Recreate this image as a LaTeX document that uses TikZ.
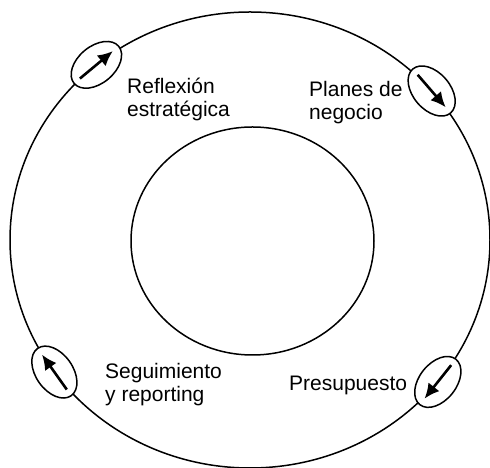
\documentclass[tikz,border=0pt]{standalone}
\usepackage{fontspec}
\setmainfont{Liberation Sans}
\usetikzlibrary{shapes.geometric,arrows.meta,calc}

\begin{document}
\begin{tikzpicture}[x=1pt, y=1pt, >={Latex[length=15pt,width=14pt]},
    marker/.style={ellipse, draw, line width=1.5pt, fill=white, minimum width=58pt, minimum height=37pt, inner sep=0pt},
    phase/.style={anchor=base west, align=left, inner sep=0pt, font=\fontsize{21}{23}\selectfont}]
  \useasboundingbox (0,0) rectangle (490,468);
  % RINGS:
  \draw[line width=1.5pt] (250,228) ellipse [x radius=240, y radius=228];
  \draw[line width=1.5pt] (252.5,227) ellipse [x radius=121.5, y radius=114];

  % MARKERS
  \foreach \t/\n in {129.8/refl, 40.8/plan, -38.5/pres, 215.4/segu} {
    \node[marker, rotate=\t-90] (\n) at ($(250,228)+(\t:240 and 228)$) {};
    \draw[->, line width=2.6pt] ($(\n.west)!0.14!(\n.east)$) -- ($(\n.west)!0.86!(\n.east)$);
  }

  % TEXTS (base = last line)
  \node[phase] (reflexion) at (127,351) {Reflexión\\estratégica};
  \node[phase] (planes) at (309,348) {Planes de\\negocio};
  \node[phase] (seguimiento) at (105,66) {Seguimiento\\y reporting};
  \node[phase] (presupuesto) at (289,77) {Presupuesto};
\end{tikzpicture}
\end{document}
